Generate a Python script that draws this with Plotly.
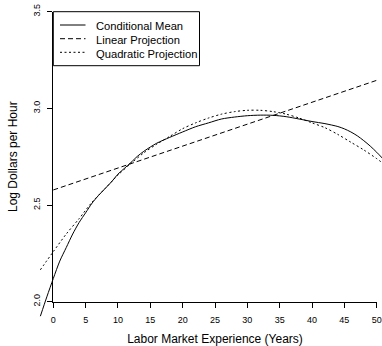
import plotly.graph_objects as go

# ---------------- data ----------------
exp_cond = [-2, -1, 0, 1, 2, 3, 4, 5, 6, 7, 8, 9, 10, 11, 12, 13, 14, 15, 16, 18,
            20, 22, 24, 26, 28, 30, 32, 34, 36, 38, 40, 42, 44, 45, 46, 47, 48, 49, 50, 51]
cond_mean = [1.925, 2.025, 2.12, 2.21, 2.28, 2.35, 2.41, 2.46, 2.51, 2.55, 2.585, 2.62,
             2.66, 2.69, 2.72, 2.752, 2.778, 2.80, 2.82, 2.85, 2.878, 2.905, 2.925, 2.945,
             2.955, 2.962, 2.965, 2.964, 2.957, 2.945, 2.932, 2.921, 2.906, 2.894, 2.878,
             2.858, 2.833, 2.805, 2.773, 2.738]

exp_lin = [0, 50]
lin_proj = [2.578, 3.145]

exp_quad = [-2, 0, 2, 4, 6, 8, 10, 12, 14, 16, 18, 20, 22, 24, 26, 28, 30, 32, 34,
            36, 38, 40, 42, 44, 46, 48, 50, 51]
quad_proj = [2.165, 2.259, 2.35, 2.43, 2.515, 2.585, 2.655, 2.715, 2.77, 2.815, 2.855,
             2.895, 2.925, 2.95, 2.97, 2.983, 2.99, 2.99, 2.983, 2.97, 2.95, 2.925,
             2.90, 2.865, 2.825, 2.785, 2.74, 2.715]

series_names = ["Conditional Mean", "Linear Projection", "Quadratic Projection"]
series_dash = ["solid", "5px,3px", "2px,2.5px"]

x_ticks = [0, 5, 10, 15, 20, 25, 30, 35, 40, 45, 50]
y_ticks = [2.0, 2.5, 3.0, 3.5]
y_ticktext = ["2.0", "2.5", "3.0", "3.5"]

# ---------------- layout geometry ----------------
W, H = 382, 346
X0_PX, X50_PX = 53.3, 376.7      # pixel of x=0 and x=50
Y20_PX, Y35_PX = 301.7, 11.7     # pixel (from top) of y=2.0 and y=3.5
ppx = (X50_PX - X0_PX) / 50.0
ppy = (Y20_PX - Y35_PX) / 1.5
x_lo = 0 - X0_PX / ppx
x_hi = 50 + (W - X50_PX) / ppx
y_hi = 3.5 + Y35_PX / ppy
y_lo = 2.0 - (H - Y20_PX) / ppy

FONT = "Liberation Sans, Arial, Helvetica, sans-serif"

fig = go.Figure()
fig.add_trace(go.Scatter(x=exp_cond, y=cond_mean, mode="lines", name=series_names[0],
                         line=dict(color="black", width=1, dash=series_dash[0],
                                   shape="spline", smoothing=0.8)))
fig.add_trace(go.Scatter(x=exp_lin, y=lin_proj, mode="lines", name=series_names[1],
                         line=dict(color="black", width=1, dash=series_dash[1])))
fig.add_trace(go.Scatter(x=exp_quad, y=quad_proj, mode="lines", name=series_names[2],
                         line=dict(color="black", width=1, dash=series_dash[2],
                                   shape="spline", smoothing=0.8)))
# placeholder trace for the visible axes
fig.add_trace(go.Scatter(x=[None], y=[None], xaxis="x2", yaxis="y2", showlegend=False,
                         hoverinfo="skip"))

# ---------------- legend box (R style, drawn in pixel space) ----------------
def px_x(p):
    return p / W

def px_y(p):
    return 1 - p / H

LEG_L, LEG_R, LEG_T, LEG_B = 53.3, 199.5, 11.7, 65.7
row_y = [25.0, 38.7, 52.3]
shapes = [dict(type="rect", xref="paper", yref="paper",
               x0=px_x(LEG_L), x1=px_x(LEG_R), y0=px_y(LEG_B), y1=px_y(LEG_T),
               line=dict(color="black", width=1), fillcolor="white", layer="above")]
annotations = []
for name, dash, ry in zip(series_names, series_dash, row_y):
    shapes.append(dict(type="line", xref="paper", yref="paper",
                       x0=px_x(60), x1=px_x(85.5), y0=px_y(ry), y1=px_y(ry),
                       line=dict(color="black", width=1, dash=dash), layer="above"))
    annotations.append(dict(text=name, xref="paper", yref="paper",
                            x=px_x(93.5), y=px_y(ry + 1.5), xanchor="left", yanchor="middle",
                            showarrow=False,
                            font=dict(size=11.2, family=FONT, color="black")))

fig.update_layout(
    width=W, height=H,
    margin=dict(l=0, r=0, t=0, b=0),
    paper_bgcolor="white", plot_bgcolor="rgba(0,0,0,0)",
    font=dict(family=FONT, color="black"),
    showlegend=False,
    shapes=shapes,
    annotations=annotations,
    xaxis=dict(domain=[0, 1], range=[x_lo, x_hi], visible=False, fixedrange=True),
    yaxis=dict(domain=[0, 1], range=[y_lo, y_hi], visible=False, fixedrange=True),
    xaxis2=dict(domain=[X0_PX / W, X50_PX / W], range=[0, 50], anchor="y2",
                showline=True, linecolor="black", linewidth=1, mirror=False,
                ticks="outside", ticklen=5, tickwidth=1, tickcolor="black",
                tickvals=x_ticks, showgrid=False, zeroline=False,
                tickfont=dict(size=9, family=FONT, color="black"),
                ticklabelstandoff=4, automargin=False,
                title=dict(text="Labor Market Experience (Years)",
                           font=dict(size=12, family=FONT, color="black"), standoff=13)),
    yaxis2=dict(domain=[1 - Y20_PX / H, 1 - Y35_PX / H], range=[2.0, 3.5], anchor="x2",
                showline=True, linecolor="black", linewidth=1,
                ticks="outside", ticklen=5, tickwidth=1, tickcolor="black",
                tickvals=y_ticks, ticktext=y_ticktext, tickangle=-90,
                showgrid=False, zeroline=False,
                tickfont=dict(size=9, family=FONT, color="black"),
                ticklabelstandoff=4, automargin=False,
                title=dict(text="Log Dollars per Hour",
                           font=dict(size=12, family=FONT, color="black"), standoff=11)),
)

fig.write_html("out.html")
